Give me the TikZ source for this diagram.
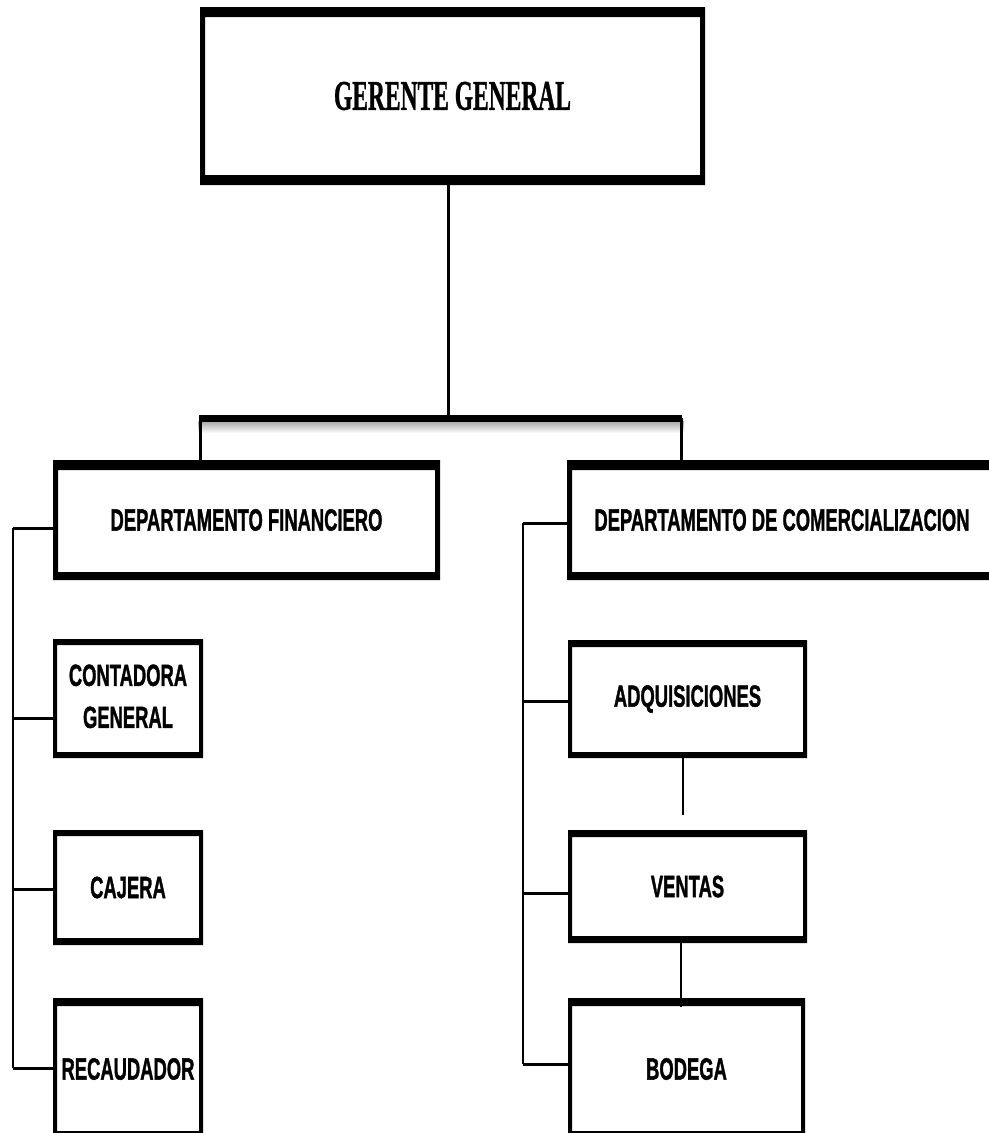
\documentclass[tikz,border=0pt]{standalone}
\usepackage{graphicx}
\usepackage{fontspec}
\setmainfont{Liberation Serif}[BoldFeatures={FakeBold=1.2}]
\newfontfamily\orgsans{Liberation Sans}[BoldFeatures={FakeBold=1.6}]

% condensed captions for the department boxes
\newcommand\orgtext[1]{\scalebox{0.6}[1]{\fontsize{23pt}{31.5pt}\selectfont\orgsans\bfseries #1}}
\newcommand\orgtwo[2]{\scalebox{0.6}[1]{\fontsize{23pt}{31.5pt}\selectfont\orgsans\bfseries
  \begin{tabular}{@{}c@{}}#1\\#2\end{tabular}}}
\newcommand\headtext[1]{\scalebox{0.556}[1]{\fontsize{31.7pt}{36pt}\selectfont\bfseries #1}}

\begin{document}
\begin{tikzpicture}[x=0.75pt,y=-0.75pt,
  % box with side / top / bottom border thickness (in px)
  orgbox/.style n args={3}{rectangle, inner sep=0pt, outer sep=0pt, fill=white,
    path picture={
      \fill[black,even odd rule]
        (path picture bounding box.south west) rectangle (path picture bounding box.north east)
        ([xshift=#1*0.75pt,yshift=-#2*0.75pt]path picture bounding box.north west)
          rectangle ([xshift=-#1*0.75pt,yshift=#3*0.75pt]path picture bounding box.south east);
    }},
  vline/.style={line width=2.25pt},
  spine/.style={line width=1.5pt},
  branch/.style={line width=2.25pt},
  barline/.style={line width=5.25pt},
]
\useasboundingbox (0,0) rectangle (989,1133);
\clip (0,0) rectangle (989,1133);

% top of the chart
\node[orgbox={5}{10}{10}, minimum width=505*0.75pt, minimum height=178*0.75pt]
  (gg) at (452.5,96) {\headtext{GERENTE GENERAL}};

% departments
\node[orgbox={5}{10}{8}, minimum width=387*0.75pt, minimum height=120*0.75pt]
  (fin) at (246.5,520) {\orgtext{DEPARTAMENTO FINANCIERO}};
\node[orgbox={5}{10}{8}, minimum width=430*0.75pt, minimum height=120*0.75pt]
  (com) at (782,520) {\orgtext{DEPARTAMENTO DE COMERCIALIZACION}};

% financial units
\node[orgbox={4}{6}{6}, minimum width=150*0.75pt, minimum height=119*0.75pt]
  (cont) at (128,698.5) {\orgtwo{CONTADORA}{GENERAL}};
\node[orgbox={4}{6}{7}, minimum width=150*0.75pt, minimum height=115*0.75pt]
  (caj) at (128,887.5) {\orgtext{CAJERA}};
\node[orgbox={4}{8}{9}, minimum width=150*0.75pt, minimum height=142*0.75pt]
  (rec) at (128,1069) {\orgtext{RECAUDADOR}};

% commercial units
\node[orgbox={4}{7}{6}, minimum width=239*0.75pt, minimum height=118*0.75pt]
  (adq) at (687.5,699) {\orgtext{ADQUISICIONES}};
\node[orgbox={4}{7}{7}, minimum width=239*0.75pt, minimum height=113*0.75pt]
  (ven) at (687.5,886.5) {\orgtext{VENTAS}};
\node[orgbox={4}{8}{9}, minimum width=237*0.75pt, minimum height=142*0.75pt]
  (bod) at (686.5,1069) {\orgtext{BODEGA}};

% manager to departments
\coordinate (stem) at (448,418);
\coordinate (barL) at (200,418);
\coordinate (barR) at (681,418);
\shade[top color=black!35, bottom color=white] (198,421) rectangle (684,433);
\draw[vline] (stem |- gg.south) -- (stem);
\draw[vline] (barL) -- (barL |- fin.north);
\draw[vline] (barR) -- (barR |- com.north);
\draw[barline] ([xshift=-1pt]barL) -- ([xshift=1pt]barR);

% financial spine
\coordinate (fs) at (13,528);
\coordinate (fe) at (13,1068);
\draw[spine] (fs) -- (fe);
\draw[branch] (fs) -- (fs -| fin.west);
\draw[branch] (fs |- 0,718) -- (cont.west |- 0,718);
\draw[branch] (fs |- 0,889) -- (caj.west |- 0,889);
\draw[branch] (fe) -- (fe -| rec.west);

% commercial spine
\coordinate (cs) at (523,523);
\coordinate (ce) at (523,1064);
\draw[spine] (cs) -- (ce);
\draw[branch] (cs) -- (cs -| com.west);
\draw[branch] (cs |- 0,701) -- (adq.west |- 0,701);
\draw[branch] (cs |- 0,893) -- (ven.west |- 0,893);
\draw[branch] (ce) -- (ce -| bod.west);

% chain adquisiciones - ventas - bodega
\coordinate (a1) at (683,815);
\draw[spine] (a1 |- adq.south) -- (a1);
\coordinate (v1) at (681,1007);
\draw[spine] (v1 |- ven.south) -- (v1);
\end{tikzpicture}
\end{document}
